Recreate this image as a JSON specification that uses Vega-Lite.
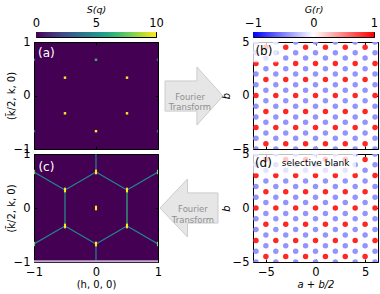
{
"$schema":"https://vega.github.io/schema/vega-lite/v6.json",
"autosize":{"type":"none"},
"padding":{"left":34,"top":32,"right":346,"bottom":262},
"config":{"font":"DejaVu Sans","view":{"stroke":"#000000","strokeWidth":1},
"axis":{"grid":false,"domain":false,"ticks":true,"tickSize":-3,"tickColor":"#000000","tickWidth":1,"labelFontSize":11.5,"labelColor":"#000000","labelFlush":false,"labelOverlap":false,"labelPadding":7,"titleFontSize":10,"titleFontWeight":"normal","titleColor":"#000000","titlePadding":4,"format":"d"}},
"resolve":{"scale":{"color":"independent"}},
"datasets":{
"latB":[
{"x":-6,"y":-5,"g":-0.42},{"x":-6,"y":-4,"g":-0.42},{"x":-6,"y":-3,"g":0.85},{"x":-6,"y":-2,"g":-0.42},{"x":-6,"y":-1,"g":-0.42},{"x":-6,"y":0,"g":0.85},{"x":-6,"y":1,"g":-0.42},{"x":-6,"y":2,"g":-0.42},{"x":-6,"y":3,"g":0.85},{"x":-6,"y":4,"g":-0.42},{"x":-6,"y":5,"g":-0.42},
{"x":-5,"y":-4.5,"g":0.85},{"x":-5,"y":-3.5,"g":-0.42},{"x":-5,"y":-2.5,"g":-0.42},{"x":-5,"y":-1.5,"g":0.85},{"x":-5,"y":-0.5,"g":-0.42},{"x":-5,"y":0.5,"g":-0.42},{"x":-5,"y":1.5,"g":0.85},{"x":-5,"y":2.5,"g":-0.42},{"x":-5,"y":3.5,"g":-0.42},{"x":-5,"y":4.5,"g":0.85},
{"x":-4,"y":-5,"g":-0.42},{"x":-4,"y":-4,"g":-0.42},{"x":-4,"y":-3,"g":0.85},{"x":-4,"y":-2,"g":-0.42},{"x":-4,"y":-1,"g":-0.42},{"x":-4,"y":0,"g":0.85},{"x":-4,"y":1,"g":-0.42},{"x":-4,"y":2,"g":-0.42},{"x":-4,"y":3,"g":0.85},{"x":-4,"y":4,"g":-0.42},{"x":-4,"y":5,"g":-0.42},
{"x":-3,"y":-4.5,"g":0.85},{"x":-3,"y":-3.5,"g":-0.42},{"x":-3,"y":-2.5,"g":-0.42},{"x":-3,"y":-1.5,"g":0.85},{"x":-3,"y":-0.5,"g":-0.42},{"x":-3,"y":0.5,"g":-0.42},{"x":-3,"y":1.5,"g":0.85},{"x":-3,"y":2.5,"g":-0.42},{"x":-3,"y":3.5,"g":-0.42},{"x":-3,"y":4.5,"g":0.85},
{"x":-2,"y":-5,"g":-0.42},{"x":-2,"y":-4,"g":-0.42},{"x":-2,"y":-3,"g":0.85},{"x":-2,"y":-2,"g":-0.42},{"x":-2,"y":-1,"g":-0.42},{"x":-2,"y":0,"g":0.85},{"x":-2,"y":1,"g":-0.42},{"x":-2,"y":2,"g":-0.42},{"x":-2,"y":3,"g":0.85},{"x":-2,"y":4,"g":-0.42},{"x":-2,"y":5,"g":-0.42},
{"x":-1,"y":-4.5,"g":0.85},{"x":-1,"y":-3.5,"g":-0.42},{"x":-1,"y":-2.5,"g":-0.42},{"x":-1,"y":-1.5,"g":0.85},{"x":-1,"y":-0.5,"g":-0.42},{"x":-1,"y":0.5,"g":-0.42},{"x":-1,"y":1.5,"g":0.85},{"x":-1,"y":2.5,"g":-0.42},{"x":-1,"y":3.5,"g":-0.42},{"x":-1,"y":4.5,"g":0.85},
{"x":0,"y":-5,"g":-0.42},{"x":0,"y":-4,"g":-0.42},{"x":0,"y":-3,"g":0.85},{"x":0,"y":-2,"g":-0.42},{"x":0,"y":-1,"g":-0.42},{"x":0,"y":0,"g":0.85},{"x":0,"y":1,"g":-0.42},{"x":0,"y":2,"g":-0.42},{"x":0,"y":3,"g":0.85},{"x":0,"y":4,"g":-0.42},{"x":0,"y":5,"g":-0.42},
{"x":1,"y":-4.5,"g":0.85},{"x":1,"y":-3.5,"g":-0.42},{"x":1,"y":-2.5,"g":-0.42},{"x":1,"y":-1.5,"g":0.85},{"x":1,"y":-0.5,"g":-0.42},{"x":1,"y":0.5,"g":-0.42},{"x":1,"y":1.5,"g":0.85},{"x":1,"y":2.5,"g":-0.42},{"x":1,"y":3.5,"g":-0.42},{"x":1,"y":4.5,"g":0.85},
{"x":2,"y":-5,"g":-0.42},{"x":2,"y":-4,"g":-0.42},{"x":2,"y":-3,"g":0.85},{"x":2,"y":-2,"g":-0.42},{"x":2,"y":-1,"g":-0.42},{"x":2,"y":0,"g":0.85},{"x":2,"y":1,"g":-0.42},{"x":2,"y":2,"g":-0.42},{"x":2,"y":3,"g":0.85},{"x":2,"y":4,"g":-0.42},{"x":2,"y":5,"g":-0.42},
{"x":3,"y":-4.5,"g":0.85},{"x":3,"y":-3.5,"g":-0.42},{"x":3,"y":-2.5,"g":-0.42},{"x":3,"y":-1.5,"g":0.85},{"x":3,"y":-0.5,"g":-0.42},{"x":3,"y":0.5,"g":-0.42},{"x":3,"y":1.5,"g":0.85},{"x":3,"y":2.5,"g":-0.42},{"x":3,"y":3.5,"g":-0.42},{"x":3,"y":4.5,"g":0.85},
{"x":4,"y":-5,"g":-0.42},{"x":4,"y":-4,"g":-0.42},{"x":4,"y":-3,"g":0.85},{"x":4,"y":-2,"g":-0.42},{"x":4,"y":-1,"g":-0.42},{"x":4,"y":0,"g":0.85},{"x":4,"y":1,"g":-0.42},{"x":4,"y":2,"g":-0.42},{"x":4,"y":3,"g":0.85},{"x":4,"y":4,"g":-0.42},{"x":4,"y":5,"g":-0.42},
{"x":5,"y":-4.5,"g":0.85},{"x":5,"y":-3.5,"g":-0.42},{"x":5,"y":-2.5,"g":-0.42},{"x":5,"y":-1.5,"g":0.85},{"x":5,"y":-0.5,"g":-0.42},{"x":5,"y":0.5,"g":-0.42},{"x":5,"y":1.5,"g":0.85},{"x":5,"y":2.5,"g":-0.42},{"x":5,"y":3.5,"g":-0.42},{"x":5,"y":4.5,"g":0.85},
{"x":6,"y":-5,"g":-0.42},{"x":6,"y":-4,"g":-0.42},{"x":6,"y":-3,"g":0.85},{"x":6,"y":-2,"g":-0.42},{"x":6,"y":-1,"g":-0.42},{"x":6,"y":0,"g":0.85},{"x":6,"y":1,"g":-0.42},{"x":6,"y":2,"g":-0.42},{"x":6,"y":3,"g":0.85},{"x":6,"y":4,"g":-0.42},{"x":6,"y":5,"g":-0.42}
]},
"concat":[
{"width":120,"height":5,
 "data":{"values":[{"a":0,"b":10}]},
 "mark":{"type":"rect","color":{"gradient":"linear","stops":[{"offset":0,"color":"#440154"},{"offset":0.1,"color":"#482475"},{"offset":0.2,"color":"#414487"},{"offset":0.3,"color":"#355f8d"},{"offset":0.4,"color":"#2a788e"},{"offset":0.5,"color":"#21918c"},{"offset":0.6,"color":"#22a884"},{"offset":0.7,"color":"#44bf70"},{"offset":0.8,"color":"#7ad151"},{"offset":0.9,"color":"#bddf26"},{"offset":1,"color":"#fde725"}]}},
 "encoding":{"x":{"field":"a","type":"quantitative","scale":{"domain":[0,10],"nice":false},"axis":{"orient":"top","values":[0,5,10],"title":"S(q)","titleFontStyle":"italic","titleFontSize":9.5,"tickSize":-5,"labelPadding":9,"titlePadding":3}},"x2":{"field":"b"}}},
{"width":95,"height":5,"view":{"stroke":null},"data":{"values":[{}]},"mark":{"type":"point","opacity":0},"encoding":{}},
{"width":121,"height":5,
 "data":{"values":[{"a":-1,"b":1}]},
 "mark":{"type":"rect","color":{"gradient":"linear","stops":[{"offset":0,"color":"#0000ff"},{"offset":0.5,"color":"#ffffff"},{"offset":1,"color":"#ff0000"}]}},
 "encoding":{"x":{"field":"a","type":"quantitative","scale":{"domain":[-1,1],"nice":false},"axis":{"orient":"top","values":[-1,0,1],"title":"G(r)","titleFontStyle":"italic","titleFontSize":9.5,"tickSize":-5,"labelPadding":9,"titlePadding":3}},"x2":{"field":"b"}}},
{"width":124,"height":107,"view":{"fill":"#440154","stroke":"#000000"},
 "resolve":{"axis":{"x":"independent","y":"independent"}},
 "layer":[
  {"data":{"values":[{"h":0,"k":0.667,"s":6.5},{"h":0.5,"k":0.333,"s":10},{"h":-0.5,"k":0.333,"s":10},{"h":0.5,"k":-0.333,"s":10},{"h":-0.5,"k":-0.333,"s":10},{"h":0,"k":-0.667,"s":10},{"h":-1,"k":0.667,"s":3},{"h":1,"k":0.667,"s":3},{"h":-1,"k":-0.667,"s":3},{"h":1,"k":-0.667,"s":3}]},
   "mark":{"type":"square","size":6,"opacity":1,"clip":true},
   "encoding":{"x":{"field":"h","type":"quantitative","scale":{"domain":[-1,1],"nice":false},"axis":{"orient":"bottom","values":[-1,0,1],"labels":false,"title":null}},
    "y":{"field":"k","type":"quantitative","scale":{"domain":[-1,1],"nice":false},"axis":{"orient":"left","values":[-1,0,1],"title":"(k̄/2, k, 0)","titleX":-18}},
    "color":{"field":"s","type":"quantitative","scale":{"scheme":"viridis","domain":[0,10]},"legend":null}}},
  {"data":{"values":[{"h":-0.8,"k":0.79,"t":"(a)"}]},
   "mark":{"type":"text","fontSize":12,"color":"#ffffff","align":"center","baseline":"middle"},
   "encoding":{"x":{"field":"h","type":"quantitative","axis":{"orient":"top","values":[-1,0,1],"labels":false,"title":null}},"y":{"field":"k","type":"quantitative","axis":{"orient":"right","values":[-1,0,1],"labels":false,"title":null}},"text":{"field":"t"}}}
 ]},
{"width":95,"height":107,"view":{"stroke":null},
 "layer":[
  {"data":{"values":[{"px":0.379,"py":0.495}]},
   "mark":{"type":"point","shape":"M-1,-0.52L0.1,-0.52L0.1,-1L1,0L0.1,1L0.1,0.52L-1,0.52Z","size":3364,"filled":true,"fill":"#e6e6e6","stroke":"#cccccc","strokeWidth":1,"opacity":1},
   "encoding":{"x":{"field":"px","type":"quantitative","scale":{"domain":[0,1]},"axis":null},"y":{"field":"py","type":"quantitative","scale":{"domain":[0,1]},"axis":null}}},
  {"data":{"values":[{"px":0.337,"py":0.49,"t":["Fourier","Transform"]}]},
   "mark":{"type":"text","fontSize":8.5,"color":"#8f8f8f","lineHeight":10.5,"align":"center","baseline":"middle"},
   "encoding":{"x":{"field":"px","type":"quantitative","axis":null},"y":{"field":"py","type":"quantitative","axis":null},"text":{"field":"t"}}}
 ]},
{"width":125,"height":107,
 "resolve":{"axis":{"x":"independent","y":"independent"}},
 "layer":[
  {"data":{"name":"latB"},"mark":{"type":"circle","size":30,"opacity":1,"clip":true},
   "encoding":{"x":{"field":"x","type":"quantitative","scale":{"domain":[-6.3,6.3],"nice":false,"zero":false},"axis":{"orient":"bottom","values":[-5,0,5],"labels":false,"title":null}},
    "y":{"field":"y","type":"quantitative","scale":{"domain":[-5,5],"nice":false},"axis":{"orient":"left","values":[-5,0,5],"title":"b","titleFontStyle":"italic","titleX":-22}},
    "color":{"field":"g","type":"quantitative","scale":{"domain":[-1,0,1],"range":["#0000ff","#ffffff","#ff0000"],"interpolate":"rgb"},"legend":null}}},
  {"data":{"values":[{"x":-6.3,"x2":-3.8,"y":5,"y2":3.1}]},"mark":{"type":"rect","fill":"#ffffff","opacity":0.75},
   "encoding":{"x":{"field":"x","type":"quantitative","axis":null},"x2":{"field":"x2"},"y":{"field":"y","type":"quantitative","axis":null},"y2":{"field":"y2"}}},
  {"data":{"values":[{"x":-5.2,"y":4.15,"t":"(b)"}]},
   "mark":{"type":"text","fontSize":12,"color":"#000000","align":"center","baseline":"middle"},
   "encoding":{"x":{"field":"x","type":"quantitative","axis":{"orient":"top","values":[-5,0,5],"labels":false,"title":null}},"y":{"field":"y","type":"quantitative","axis":{"orient":"right","values":[-5,0,5],"labels":false,"title":null}},"text":{"field":"t"}}}
 ]},
{"width":124,"height":108,"view":{"fill":"#440154","stroke":"#000000"},
 "resolve":{"axis":{"x":"independent","y":"independent"}},
 "layer":[
  {"data":{"values":[
    {"x":0,"y":0.667,"x2":0.5,"y2":0.333,"v":4.5},{"x":0.5,"y":0.333,"x2":0.5,"y2":-0.333,"v":6.5},{"x":0.5,"y":-0.333,"x2":0,"y2":-0.667,"v":4.5},
    {"x":0,"y":-0.667,"x2":-0.5,"y2":-0.333,"v":4.5},{"x":-0.5,"y":-0.333,"x2":-0.5,"y2":0.333,"v":5},{"x":-0.5,"y":0.333,"x2":0,"y2":0.667,"v":4.5},
    {"x":0,"y":0.667,"x2":0,"y2":1,"v":4.5},{"x":0,"y":-0.667,"x2":0,"y2":-1,"v":4.5},
    {"x":0.5,"y":0.333,"x2":1,"y2":0.667,"v":4.5},{"x":-0.5,"y":0.333,"x2":-1,"y2":0.667,"v":4.5},
    {"x":0.5,"y":-0.333,"x2":1,"y2":-0.667,"v":4.5},{"x":-0.5,"y":-0.333,"x2":-1,"y2":-0.667,"v":4.5}]},
   "mark":{"type":"rule","strokeWidth":1.2,"clip":true},
   "encoding":{"x":{"field":"x","type":"quantitative","scale":{"domain":[-1,1],"nice":false},"axis":{"orient":"bottom","values":[-1,0,1],"title":"(h, 0, 0)","titlePadding":2}},
    "y":{"field":"y","type":"quantitative","scale":{"domain":[-1,1],"nice":false},"axis":{"orient":"left","values":[-1,0,1],"title":"(k̄/2, k, 0)","titleX":-18}},
    "x2":{"field":"x2"},"y2":{"field":"y2"},
    "color":{"field":"v","type":"quantitative","scale":{"scheme":"viridis","domain":[0,10]},"legend":null}}},
  {"data":{"values":[{"x":-1,"x2":1,"y":-0.985}]},"mark":{"type":"rule","strokeWidth":2,"color":"#c3a9cf"},
   "encoding":{"x":{"field":"x","type":"quantitative","axis":null},"x2":{"field":"x2"},"y":{"field":"y","type":"quantitative","axis":null}}},
  {"data":{"values":[{"x":0,"y":0.667,"v":10},{"x":0.5,"y":0.333,"v":10},{"x":-0.5,"y":0.333,"v":10},{"x":0.5,"y":-0.333,"v":10},{"x":-0.5,"y":-0.333,"v":10},{"x":0,"y":-0.667,"v":10},{"x":0,"y":0,"v":10},{"x":-1,"y":0.667,"v":8},{"x":1,"y":0.667,"v":8},{"x":-1,"y":-0.667,"v":8},{"x":1,"y":-0.667,"v":8}]},
   "mark":{"type":"point","shape":"M-0.45,-1L0.45,-1L0.45,1L-0.45,1Z","size":22,"filled":true,"opacity":1,"clip":true},
   "encoding":{"x":{"field":"x","type":"quantitative","axis":null},"y":{"field":"y","type":"quantitative","axis":null},"color":{"field":"v","type":"quantitative","legend":null}}},
  {"data":{"values":[{"x":-0.8,"y":0.76,"t":"(c)"}]},
   "mark":{"type":"text","fontSize":12,"color":"#ffffff","align":"center","baseline":"middle"},
   "encoding":{"x":{"field":"x","type":"quantitative","axis":{"orient":"top","values":[-1,0,1],"labels":false,"title":null}},"y":{"field":"y","type":"quantitative","axis":{"orient":"right","values":[-1,0,1],"labels":false,"title":null}},"text":{"field":"t"}}}
 ]},
{"width":95,"height":108,"view":{"stroke":null},
 "layer":[
  {"data":{"values":[{"px":0.326,"py":0.5}]},
   "mark":{"type":"point","shape":"M1,-0.52L-0.05,-0.52L-0.05,-1L-1,0L-0.05,1L-0.05,0.52L1,0.52Z","size":3364,"filled":true,"fill":"#e6e6e6","stroke":"#cccccc","strokeWidth":1,"opacity":1},
   "encoding":{"x":{"field":"px","type":"quantitative","scale":{"domain":[0,1]},"axis":null},"y":{"field":"py","type":"quantitative","scale":{"domain":[0,1]},"axis":null}}},
  {"data":{"values":[{"px":0.368,"py":0.49,"t":["Fourier","Transform"]}]},
   "mark":{"type":"text","fontSize":8.5,"color":"#8f8f8f","lineHeight":10.5,"align":"center","baseline":"middle"},
   "encoding":{"x":{"field":"px","type":"quantitative","axis":null},"y":{"field":"py","type":"quantitative","axis":null},"text":{"field":"t"}}}
 ]},
{"width":125,"height":108,
 "resolve":{"axis":{"x":"independent","y":"independent"}},
 "layer":[
  {"data":{"name":"latB"},"mark":{"type":"circle","size":30,"opacity":1,"clip":true},
   "encoding":{"x":{"field":"x","type":"quantitative","scale":{"domain":[-6.3,6.3],"nice":false,"zero":false},"axis":{"orient":"bottom","values":[-5,0,5],"title":"a + b/2","titleFontStyle":"italic","titlePadding":2}},
    "y":{"field":"y","type":"quantitative","scale":{"domain":[-5,5],"nice":false},"axis":{"orient":"left","values":[-5,0,5],"title":"b","titleFontStyle":"italic","titleX":-22}},
    "color":{"field":"g","type":"quantitative","scale":{"domain":[-1,0,1],"range":["#0000ff","#ffffff","#ff0000"],"interpolate":"rgb"},"legend":null}}},
  {"data":{"values":[{"x":-6.3,"x2":4.1,"y":5,"y2":3.2}]},"mark":{"type":"rect","fill":"#ffffff","opacity":0.75},
   "encoding":{"x":{"field":"x","type":"quantitative","axis":null},"x2":{"field":"x2"},"y":{"field":"y","type":"quantitative","axis":null},"y2":{"field":"y2"}}},
  {"data":{"values":[{"x":-5.25,"y":4.2,"t":"(d)"}]},
   "mark":{"type":"text","fontSize":12,"color":"#000000","align":"center","baseline":"middle"},
   "encoding":{"x":{"field":"x","type":"quantitative","axis":{"orient":"top","values":[-5,0,5],"labels":false,"title":null}},"y":{"field":"y","type":"quantitative","axis":{"orient":"right","values":[-5,0,5],"labels":false,"title":null}},"text":{"field":"t"}}},
  {"data":{"values":[{"x":-3.4,"y":4.2,"t":"selective blank"}]},
   "mark":{"type":"text","fontSize":9,"color":"#000000","align":"left","baseline":"middle"},
   "encoding":{"x":{"field":"x","type":"quantitative","axis":null},"y":{"field":"y","type":"quantitative","axis":null},"text":{"field":"t"}}}
 ]}
],
"columns":3,
"spacing":{"row":5,"column":0},
"bounds":"flush",
"center":true
}
